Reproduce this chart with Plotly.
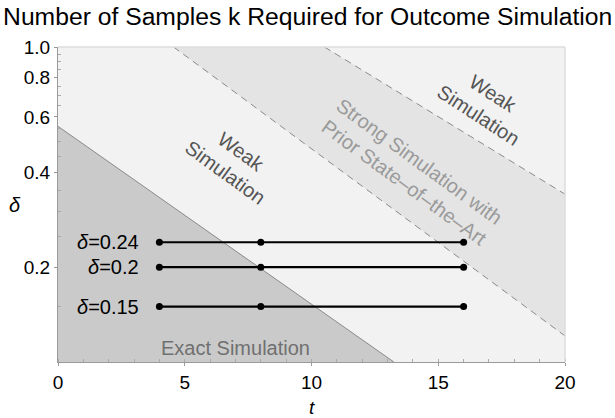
import math
import plotly.graph_objects as go

# Region boundaries (t, delta)
exact_t = [0, 13.25]
exact_delta = [0.56, 0.1]
prior_lower_t = [4.56, 20]
prior_lower_delta = [1.0, 0.121]
prior_upper_t = [10.51, 20]
prior_upper_delta = [1.0, 0.341]

# Sample lines
line_deltas = [0.24, 0.2, 0.15]
line_labels = ["0.24", "0.2", "0.15"]
sample_t = [4, 8, 16]

x_ticks = [0, 5, 10, 15, 20]
y_ticks = [0.2, 0.4, 0.6, 0.8, 1.0]
y_tick_text = ["0.2", "0.4", "0.6", "0.8", "1.0"]
y_minor = [0.15, 0.25, 0.3, 0.35, 0.45, 0.5, 0.55, 0.65, 0.7, 0.75, 0.85, 0.9, 0.95]

FONT = "Liberation Sans, Arial, Helvetica, sans-serif"
fig = go.Figure()

# Strong simulation band between the dashed lines
band_t = [prior_lower_t[0], prior_upper_t[0], prior_upper_t[1], prior_lower_t[1]]
band_d = [prior_lower_delta[0], prior_upper_delta[0], prior_upper_delta[1], prior_lower_delta[1]]
fig.add_trace(go.Scatter(x=band_t, y=band_d, fill="toself", fillcolor="#e4e4e4",
                         mode="none", hoverinfo="skip", showlegend=False))
for tt, dd in [(prior_lower_t, prior_lower_delta), (prior_upper_t, prior_upper_delta)]:
    fig.add_trace(go.Scatter(x=tt, y=dd, mode="lines",
                             line=dict(color="#8a8a8a", width=1, dash="7px,5px"),
                             hoverinfo="skip", showlegend=False))

# Exact simulation region
fig.add_trace(go.Scatter(x=[exact_t[0], exact_t[0], exact_t[1]],
                         y=[exact_delta[1], exact_delta[0], exact_delta[1]],
                         fill="toself", fillcolor="#cacaca", mode="none",
                         hoverinfo="skip", showlegend=False))
fig.add_trace(go.Scatter(x=exact_t, y=exact_delta, mode="lines",
                         line=dict(color="#8a8a8a", width=1),
                         hoverinfo="skip", showlegend=False))

# Sample lines with markers
for d, lab in zip(line_deltas, line_labels):
    fig.add_trace(go.Scatter(x=sample_t, y=[d] * len(sample_t), mode="lines+markers",
                             line=dict(color="black", width=2.2),
                             marker=dict(color="black", size=7),
                             hoverinfo="skip", showlegend=False))
    fig.add_annotation(x=sample_t[0], y=math.log10(d), xref="x", yref="y",
                       text="<i>δ</i>=" + lab, showarrow=False, xanchor="right",
                       xshift=-18, font=dict(family=FONT, size=20, color="black"))

# Region labels
fig.add_annotation(x=6.9, y=math.log10(0.43), text="Weak<br>Simulation", showarrow=False,
                   textangle=36, font=dict(family=FONT, size=20, color="#555555"))
fig.add_annotation(x=16.85, y=math.log10(0.66), text="Weak<br>Simulation", showarrow=False,
                   textangle=33, font=dict(family=FONT, size=20, color="#555555"))
fig.add_annotation(x=13.95, y=math.log10(0.40),
                   text="Strong Simulation with<br>Prior State\u2013of\u2013the\u2013Art",
                   showarrow=False, textangle=36,
                   font=dict(family=FONT, size=20, color="#9a9a9a"))
fig.add_annotation(x=7.0, y=math.log10(0.111), text="Exact Simulation", showarrow=False,
                   font=dict(family=FONT, size=20, color="#707070"))

# Axis titles
fig.add_annotation(x=0.5, y=-0.143, xref="paper", yref="paper", text="<i>t</i>",
                   xanchor="center", yanchor="middle",
                   showarrow=False, font=dict(family=FONT, size=19, color="black"))
fig.add_annotation(x=-0.085, y=0.5, xref="paper", yref="paper", text="<i>δ</i>",
                   xanchor="center", yanchor="middle",
                   showarrow=False, font=dict(family=FONT, size=20, color="black"))

fig.update_layout(
    width=615, height=418,
    margin=dict(l=58, r=50, t=47, b=56),
    paper_bgcolor="white", plot_bgcolor="#f2f2f2",
    title=dict(text="Number of Samples k Required for Outcome Simulation",
               x=0.005, xanchor="left", xref="container",
               y=0.962, yanchor="middle", yref="container",
               font=dict(family=FONT, size=24.7, color="black")),
    xaxis=dict(range=[0, 20], tickvals=x_ticks, showgrid=False, zeroline=False,
               showline=True, linecolor="#9a9a9a", linewidth=1, mirror=False,
               ticks="outside", ticklen=3, tickcolor="#9a9a9a",
               minor=dict(dtick=1, tick0=0, ticks="inside", ticklen=3, tickcolor="#aaaaaa"),
               tickfont=dict(family=FONT, size=19, color="black")),
    yaxis=dict(type="log", range=[-1, 0], tickvals=y_ticks, ticktext=y_tick_text,
               showgrid=False, zeroline=False, showline=True, linecolor="#9a9a9a",
               linewidth=1, ticks="outside", ticklen=3, tickcolor="#9a9a9a",
               minor=dict(tickvals=y_minor, ticks="inside", ticklen=3, tickcolor="#aaaaaa"),
               tickfont=dict(family=FONT, size=19, color="black")),
)

# Light frame on top and right
fig.add_shape(type="line", xref="paper", yref="paper", x0=0, x1=1, y0=1, y1=1,
              line=dict(color="#dddddd", width=1.5))
fig.add_shape(type="line", xref="paper", yref="paper", x0=1, x1=1, y0=0, y1=1,
              line=dict(color="#dddddd", width=1.5))

fig.write_html("out.html")
